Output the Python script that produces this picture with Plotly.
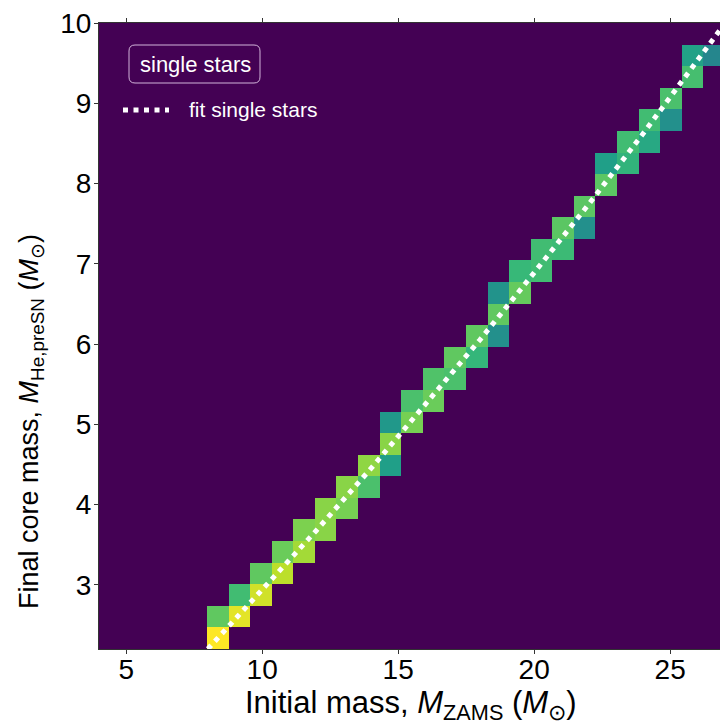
import numpy as np
import plotly.graph_objects as go

# Histogram binning: 29 x 29 bins over the plotted mass ranges
N_BINS = 29
M_ZAMS_RANGE = (4.0, 27.0)
M_CORE_RANGE = (2.2, 10.0)

# Occupied bins (column = M_ZAMS bin, row = M_He,preSN bin) and their normalised density
bin_col = [5, 5, 6, 6, 7, 7, 8, 8, 9, 9, 10, 10, 11, 11, 12, 12, 13, 13, 13,
           14, 14, 15, 15, 16, 16, 17, 17, 18, 18, 18, 19, 19, 20, 20, 21, 21,
           22, 22, 23, 23, 24, 24, 25, 25, 26, 26, 27, 27, 28]
bin_row = [0, 1, 1, 2, 2, 3, 3, 4, 4, 5, 5, 6, 6, 7, 7, 8, 8, 9, 10,
           10, 11, 11, 12, 12, 13, 13, 14, 14, 15, 16, 16, 17, 17, 18, 18, 19,
           19, 20, 21, 22, 22, 23, 23, 24, 24, 25, 26, 27, 27]
density = [1.00, 0.75, 0.96, 0.69, 0.93, 0.75, 0.90, 0.77, 0.86, 0.80,
           0.82, 0.82, 0.79, 0.82, 0.71, 0.83, 0.56, 0.82, 0.53,
           0.79, 0.71, 0.77, 0.72, 0.71, 0.75, 0.66, 0.75, 0.50, 0.75, 0.51,
           0.76, 0.67, 0.69, 0.69, 0.68, 0.74, 0.50, 0.74, 0.74, 0.56,
           0.65, 0.69, 0.60, 0.69, 0.50, 0.71, 0.70, 0.57, 0.46]

# Fit to the single-star relation
fit_m_zams = [8.0, 10.0, 12.0, 14.0, 16.0, 18.0, 20.0, 22.0, 24.0, 26.0, 27.0]
fit_m_core = [2.20, 2.93, 3.68, 4.45, 5.24, 6.05, 6.89, 7.74, 8.62, 9.53, 9.99]

x_ticks = [5, 10, 15, 20, 25]
y_ticks = [3, 4, 5, 6, 7, 8, 9, 10]

x_edges = np.linspace(*M_ZAMS_RANGE, N_BINS + 1)
y_edges = np.linspace(*M_CORE_RANGE, N_BINS + 1)
z = np.zeros((N_BINS, N_BINS))
for c, r, d in zip(bin_col, bin_row, density):
    z[r, c] = d

FONT = "Liberation Sans, Arial, sans-serif"
DOT = "5px,5.5px"

fig = go.Figure()
fig.add_trace(go.Heatmap(
    x=x_edges, y=y_edges, z=z,
    colorscale="Viridis", zmin=0, zmax=1,
    showscale=False, hoverinfo="skip",
))
fig.add_trace(go.Scatter(
    x=fit_m_zams, y=fit_m_core, mode="lines",
    line=dict(color="white", width=5, dash=DOT),
    name="fit single stars", showlegend=False,
))

W, H = 720, 724
L, R, T, B = 99, 0, 23, 75
pw, ph = W - L - R, H - T - B


def px(xp):
    return (xp - L) / pw


def py(yp):
    return (H - B - yp) / ph


axis_common = dict(
    showgrid=False, zeroline=False, showline=True, linecolor="#333333",
    linewidth=1, ticks="outside", ticklen=4,
    tickcolor="#333333", tickfont=dict(family=FONT, size=28, color="black"),
)

fig.update_layout(
    width=W, height=H,
    margin=dict(l=L, r=R, t=T, b=B),
    paper_bgcolor="white", plot_bgcolor="#440154",
    showlegend=False,
    xaxis=dict(range=[4.0, 4.0 + pw / 27.2], tickvals=x_ticks, mirror="ticks",
               ticklabelstandoff=-9, **axis_common),
    yaxis=dict(range=list(M_CORE_RANGE), tickvals=y_ticks, mirror=False,
               ticklabelstandoff=-3, **axis_common),
)

annotations = [
    # x-axis label
    dict(text="Initial mass, <i>M</i><sub>ZAMS</sub> (<i>M</i><sub>⊙</sub>)",
         x=px(410), y=py(705), xref="paper", yref="paper",
         xanchor="center", yanchor="middle", showarrow=False,
         font=dict(family=FONT, size=31, color="black")),
    # y-axis label
    dict(text="Final core mass, <i>M</i><sub>He,preSN</sub> (<i>M</i><sub>⊙</sub>)",
         x=px(31), y=py(422), xref="paper", yref="paper",
         xanchor="center", yanchor="middle", showarrow=False, textangle=-90,
         font=dict(family=FONT, size=27, color="black")),
    # boxed label
    dict(text="single stars", x=px(195), y=py(64), xref="paper", yref="paper",
         xanchor="center", yanchor="middle", showarrow=False,
         font=dict(family=FONT, size=22, color="white")),
    # legend entry text
    dict(text="fit single stars", x=px(187), y=py(110), xref="paper", yref="paper",
         xanchor="left", yanchor="middle", showarrow=False,
         font=dict(family=FONT, size=21, color="white")),
]
fig.update_layout(annotations=annotations)

# rounded frame around the boxed label
bx0, bx1, by0, by1, rad = 129, 260, 45, 83, 6
rx, ry = rad / pw, rad / ph
X0, X1, Y0, Y1 = px(bx0), px(bx1), py(by1), py(by0)
box_path = (
    f"M {X0 + rx},{Y0} L {X1 - rx},{Y0} Q {X1},{Y0} {X1},{Y0 + ry} "
    f"L {X1},{Y1 - ry} Q {X1},{Y1} {X1 - rx},{Y1} "
    f"L {X0 + rx},{Y1} Q {X0},{Y1} {X0},{Y1 - ry} "
    f"L {X0},{Y0 + ry} Q {X0},{Y0} {X0 + rx},{Y0} Z"
)
fig.add_shape(type="path", xref="paper", yref="paper", path=box_path,
              line=dict(color="rgba(225,200,232,0.9)", width=1))

# legend entry sample line
fig.add_shape(type="line", xref="paper", yref="paper",
              x0=px(123), x1=px(169), y0=py(110), y1=py(110),
              line=dict(color="white", width=5, dash=DOT))

fig.write_html("out.html")
